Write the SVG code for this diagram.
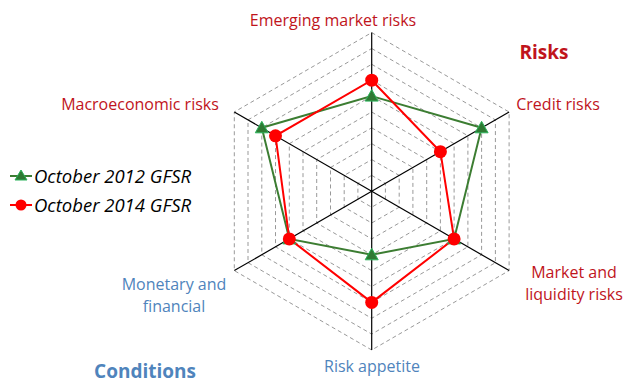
<svg xmlns="http://www.w3.org/2000/svg" width="624" height="383" viewBox="0 0 624 383">
<style>
.grid{fill:none;stroke:#999;stroke-width:1;stroke-dasharray:4,3}
.axis{stroke:#000;stroke-width:1.2}
.r{font-family:"Open Sans","Liberation Sans",sans-serif;font-size:16px;fill:#C0141C}
.b{font-family:"Open Sans","Liberation Sans",sans-serif;font-size:16px;fill:#4F84BC}
.hd{font-weight:bold;font-size:19px}
.leg{font-family:"Open Sans","Liberation Sans",sans-serif;font-size:18.5px;font-style:italic;fill:#000}
.s12{fill:none;stroke:#3C7D32;stroke-width:2}
.s14{fill:none;stroke:#FF0000;stroke-width:2}
.tri{fill:#2F7A33;stroke:#2DB35C;stroke-width:1}
.dot{fill:#FF0000}
</style>
<rect width="624" height="383" fill="#fff"/>
<g id="grid">
<polygon class="grid" points="371.7,175.4 385.4,183.4 385.4,199.2 371.7,207.2 357.9,199.2 357.9,183.4"/>
<polygon class="grid" points="371.7,159.6 399.2,175.4 399.2,207.2 371.7,223.0 344.2,207.2 344.2,175.4"/>
<polygon class="grid" points="371.7,143.7 412.9,167.5 412.9,215.1 371.7,238.9 330.5,215.1 330.5,167.5"/>
<polygon class="grid" points="371.7,127.8 426.7,159.6 426.7,223.0 371.7,254.8 316.7,223.0 316.7,159.6"/>
<polygon class="grid" points="371.7,112.0 440.4,151.7 440.4,230.9 371.7,270.6 303.0,230.9 303.0,151.7"/>
<polygon class="grid" points="371.7,96.1 454.1,143.7 454.1,238.9 371.7,286.5 289.3,238.9 289.3,143.7"/>
<polygon class="grid" points="371.7,80.2 467.9,135.8 467.9,246.8 371.7,302.4 275.5,246.8 275.5,135.8"/>
<polygon class="grid" points="371.7,64.3 481.6,127.8 481.6,254.8 371.7,318.3 261.8,254.8 261.8,127.8"/>
<polygon class="grid" points="371.7,48.5 495.4,119.9 495.4,262.7 371.7,334.1 248.0,262.7 248.0,119.9"/>
<polygon class="grid" points="371.7,32.6 509.1,112.0 509.1,270.6 371.7,350.0 234.3,270.6 234.3,112.0"/>
</g>
<g id="axes">
<line class="axis" x1="371.7" y1="191.3" x2="371.7" y2="32.6"/>
<line class="axis" x1="371.7" y1="191.3" x2="509.1" y2="112.0"/>
<line class="axis" x1="371.7" y1="191.3" x2="509.1" y2="270.6"/>
<line class="axis" x1="371.7" y1="191.3" x2="371.7" y2="350.0"/>
<line class="axis" x1="371.7" y1="191.3" x2="234.3" y2="270.6"/>
<line class="axis" x1="371.7" y1="191.3" x2="234.3" y2="112.0"/>
</g>
<g id="connectors">
<polygon id="series-2012" class="s12" points="371.7,96.1 481.6,127.8 454.1,238.9 371.7,254.8 289.3,238.9 261.8,127.8"/>
<polygon id="series-2014" class="s14" points="371.7,80.2 440.4,151.7 454.1,238.9 371.7,302.4 289.3,238.9 275.5,135.8"/>
</g>
<g id="markers-2012">
<polygon class="tri" points="371.7,89.6 378.2,101.1 365.2,101.1"/>
<polygon class="tri" points="481.6,121.3 488.1,132.8 475.1,132.8"/>
<polygon class="tri" points="454.1,232.4 460.6,243.9 447.6,243.9"/>
<polygon class="tri" points="371.7,248.3 378.2,259.8 365.2,259.8"/>
<polygon class="tri" points="289.3,232.4 295.8,243.9 282.8,243.9"/>
<polygon class="tri" points="261.8,121.3 268.3,132.8 255.3,132.8"/>
</g>
<g id="markers-2014">
<circle class="dot" cx="371.7" cy="80.2" r="6.5"/>
<circle class="dot" cx="440.4" cy="151.7" r="6.5"/>
<circle class="dot" cx="454.1" cy="238.9" r="6.5"/>
<circle class="dot" cx="371.7" cy="302.4" r="6.5"/>
<circle class="dot" cx="289.3" cy="238.9" r="6.5"/>
<circle class="dot" cx="275.5" cy="135.8" r="6.5"/>
</g>
<g id="label-emerging"><text class="r" x="333" y="26" text-anchor="middle">Emerging market risks</text></g>
<g id="label-risks"><text class="r hd" x="544" y="59" text-anchor="middle">Risks</text></g>
<g id="label-credit"><text class="r" x="558" y="110" text-anchor="middle">Credit risks</text></g>
<g id="label-macro"><text class="r" x="140" y="110" text-anchor="middle">Macroeconomic risks</text></g>
<g id="label-market"><text class="r" x="574" y="278" text-anchor="middle" font-size="15.5">Market and</text><text class="r" x="574" y="300" text-anchor="middle" font-size="15.5">liquidity risks</text></g>
<g id="label-appetite"><text class="b" x="372" y="372" text-anchor="middle">Risk appetite</text></g>
<g id="label-monetary"><text class="b" x="174" y="290" text-anchor="middle">Monetary and</text><text class="b" x="174" y="312" text-anchor="middle">financial</text></g>
<g id="label-conditions"><text class="b hd" x="145" y="378" text-anchor="middle" fill="#3F77A8">Conditions</text></g>
<g id="legend-2012">
<line x1="10" y1="176" x2="32" y2="176" stroke="#3C7D32" stroke-width="2"/>
<polygon class="tri" points="21,170 27,180 15,180"/>
<text class="leg" x="34" y="183">October 2012 GFSR</text>
</g>
<g id="legend-2014">
<line x1="10" y1="205" x2="32" y2="205" stroke="#FF0000" stroke-width="2"/>
<circle class="dot" cx="21" cy="205" r="5.5"/>
<text class="leg" x="34" y="212">October 2014 GFSR</text>
</g>
</svg>
